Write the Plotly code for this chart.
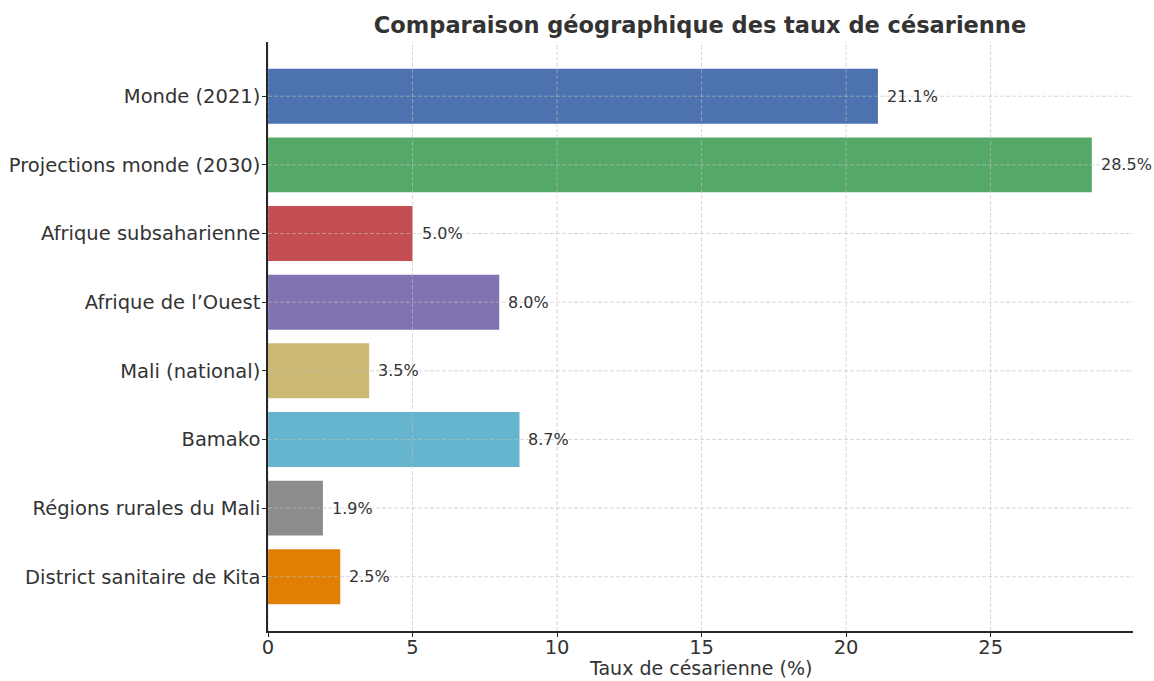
import plotly.graph_objects as go

# Catégories et taux de césarienne (%)
categories = [
    "Monde (2021)",
    "Projections monde (2030)",
    "Afrique subsaharienne",
    "Afrique de l\u2019Ouest",
    "Mali (national)",
    "Bamako",
    "Régions rurales du Mali",
    "District sanitaire de Kita",
]
taux = [21.1, 28.5, 5.0, 8.0, 3.5, 8.7, 1.9, 2.5]
couleurs = ["#4C72B0", "#55A868", "#C44E52", "#8172B2",
            "#CCB974", "#64B5CD", "#8C8C8C", "#E17F04"]
x_ticks = [0, 5, 10, 15, 20, 25]

FONT = "DejaVu Sans"
TEXT = "#333333"
GRID = "rgba(190,190,190,0.6)"

x_max = max(taux) * 1.05
n = len(categories)

fig = go.Figure(
    go.Bar(
        x=taux,
        y=categories,
        orientation="h",
        width=0.8,
        marker=dict(color=couleurs, line=dict(width=0)),
        hoverinfo="x+y",
    )
)

# Étiquettes de valeur à droite des barres
for cat, v in zip(categories, taux):
    fig.add_annotation(
        x=v, y=cat, text=f"{v:.1f}%", showarrow=False,
        xanchor="left", yanchor="middle", xshift=7,
        font=dict(family=FONT, size=16, color=TEXT),
    )

# Titre de l'axe horizontal
fig.add_annotation(
    x=0.5, y=-0.062, xref="paper", yref="paper",
    text="Taux de césarienne (%)", showarrow=False,
    xanchor="center", yanchor="middle",
    font=dict(family=FONT, size=19, color=TEXT),
)

# Grille pointillée dessinée par-dessus les barres
for t in x_ticks:
    fig.add_shape(type="line", xref="x", yref="paper", x0=t, x1=t, y0=0, y1=1,
                  line=dict(color=GRID, width=1, dash="4px,2px"), layer="above")
for cat in categories:
    fig.add_shape(type="line", xref="paper", yref="y", x0=0, x1=1, y0=cat, y1=cat,
                  line=dict(color=GRID, width=1, dash="4px,2px"), layer="above")

fig.update_layout(
    width=1154, height=681,
    margin=dict(l=268, r=21, t=42, b=50),
    paper_bgcolor="white", plot_bgcolor="white",
    showlegend=False,
    title=dict(
        text="<b>Comparaison géographique des taux de césarienne</b>",
        x=0.6066, xanchor="center", y=0.963, yanchor="middle",
        font=dict(family=FONT, size=22.5, color=TEXT),
    ),
    font=dict(family=FONT, color=TEXT),
)

fig.update_xaxes(
    range=[0, x_max],
    tickvals=x_ticks, ticktext=[str(t) for t in x_ticks],
    showgrid=False, zeroline=False, automargin=False,
    showline=True, linecolor="#262626", linewidth=1.5,
    ticks="outside", ticklen=4, tickwidth=1.2, tickcolor="#262626",
    tickfont=dict(family=FONT, size=19.5, color=TEXT),
    ticklabelstandoff=-6,
)
fig.update_yaxes(
    type="category",
    categoryorder="array", categoryarray=categories,
    range=[n - 1 + 0.79, -0.79],
    showgrid=False, zeroline=False, automargin=False,
    showline=True, linecolor="#262626", linewidth=1.5,
    ticks="outside", ticklen=4, tickwidth=1.2, tickcolor="#262626",
    tickfont=dict(family=FONT, size=19.5, color=TEXT),
    ticklabelstandoff=-2,
)

fig.write_html("out.html")
